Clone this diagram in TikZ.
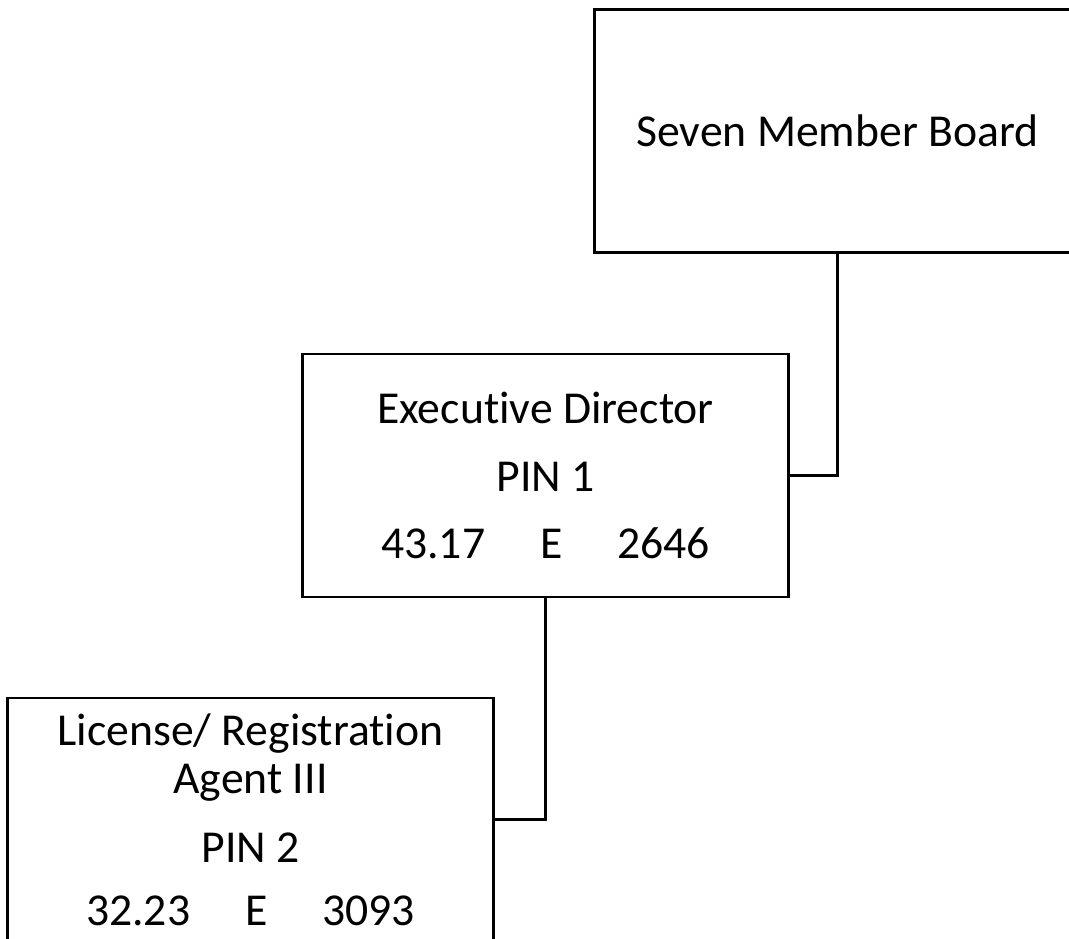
\documentclass[tikz,border=0pt]{standalone}
\usepackage{fontspec}
\setmainfont{Carlito}[Ligatures=NoCommon]
\usepackage{tikz}
\usetikzlibrary{positioning}

\begin{document}
\begin{tikzpicture}[x=0.02cm, y=-0.02cm,
  orgbox/.style={draw, line width=1.3pt, minimum width=9.72cm, minimum height=4.86cm, align=center, inner sep=0pt, font=\fontsize{26}{27.5}\selectfont},
  link/.style={draw, line width=1.3pt}]
\useasboundingbox (0,0) rectangle (1069,939);

\node [orgbox] (board) at (837.5,131) {Seven Member Board};
\node [orgbox] (exec) at (545.5,475.5) {Executive Director\\[11pt] PIN 1\\[11pt] 43.17\hspace{1.2em}E\hspace{1.2em}2646};
\node [orgbox] (agent) at (250.5,819.5) {License/ Registration\\ Agent III\\[12pt] PIN 2\\[8pt] 32.23\hspace{1.2em}E\hspace{1.2em}3093};

\draw [link] (board.south) |- (exec.east);
\draw [link] (exec.south) |- (agent.east);
\end{tikzpicture}
\end{document}
